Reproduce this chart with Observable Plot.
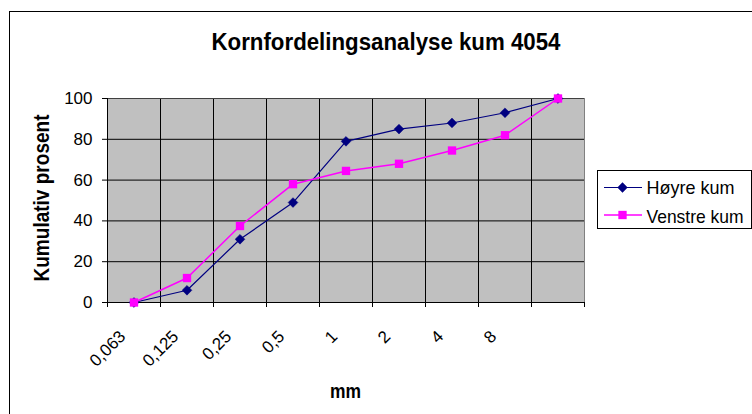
<!DOCTYPE html>
<html><head><meta charset="utf-8">
<script src="https://cdn.jsdelivr.net/npm/d3@7"></script>
<script src="https://cdn.jsdelivr.net/npm/@observablehq/plot@0.6"></script>
<style>
html,body{margin:0;padding:0;background:#fff;overflow:hidden;}
#wrap{position:relative;width:752px;height:414px;overflow:hidden;font-family:"Liberation Sans",Arial,sans-serif;}
#frame{position:absolute;left:9px;top:11px;width:900px;height:600px;border:1px solid #000;}
#chart{position:absolute;left:0;top:0;}
#overlay{position:absolute;left:0;top:0;}
</style></head><body>
<div id="wrap"><div id="frame"></div><div id="chart"></div><svg id="overlay" width="752" height="414"></svg></div>
<script>
const categories = ["0,063", "0,125", "0,25", "0,5", "1", "2", "4", "8", ""];
const hoyre = [0, 6, 31, 49, 79, 85, 88, 93, 100];
const venstre = [0, 12, 37.5, 58, 64.5, 68, 74.5, 82, 100];
const yTicks = [0, 20, 40, 60, 80, 100];
const title = "Kornfordelingsanalyse kum 4054";
const yTitle = "Kumulativ prosent";
const xTitle = "mm";
const seriesNames = ["Høyre kum", "Venstre kum"];
const colors = ["#000080", "#ff00ff"];

const rows = categories.map((label, i) => ({x: i + 0.5, hoyre: hoyre[i], venstre: venstre[i], label}));

const chart = Plot.plot({
  width: 752, height: 414,
  marginLeft: 107, marginRight: 168, marginTop: 98, marginBottom: 112,
  style: {background: "transparent", fontFamily: "Liberation Sans, Arial, sans-serif", fontSize: "17px", color: "#000"},
  x: {domain: [0, categories.length]},
  y: {domain: [0, 100]},
  marks: [
    Plot.frame({fill: "#c0c0c0", stroke: "#808080"}),
    Plot.ruleX(d3.range(1, categories.length), {stroke: "#000"}),
    Plot.ruleY(yTicks.filter(v => v > 0 && v < 100), {stroke: "#000"}),
    Plot.ruleY([100], {stroke: "#404040"}),
    Plot.axisY({ticks: yTicks, tickSize: 5, tickPadding: 10, fontSize: 17, label: null, tickFormat: d => String(d)}),
    Plot.axisX({ticks: d3.range(0, categories.length + 1), tickSize: 5, tickFormat: () => "", label: null}),
    Plot.ruleX([0], {stroke: "#000"}),
    Plot.ruleY([0], {stroke: "#000"}),
    Plot.text(rows, {x: "x", y: () => 0, text: "label", rotate: -45, textAnchor: "end", lineAnchor: "bottom", dx: -7.5, dy: 35, fontSize: 17, fill: "#000"}),
    Plot.line(rows, {x: "x", y: "hoyre", stroke: colors[0], strokeWidth: 1.2}),
    Plot.dot(rows, {x: "x", y: "hoyre", symbol: "diamond2", r: 4.4, fill: colors[0], stroke: colors[0], strokeWidth: 0.5}),
    Plot.line(rows, {x: "x", y: "venstre", stroke: colors[1], strokeWidth: 1.5}),
    Plot.dot(rows, {x: "x", y: "venstre", symbol: "square", r: 4.7, fill: colors[1]})
  ]
});
document.getElementById("chart").appendChild(chart);

const ov = d3.select("#overlay");
const ff = "Liberation Sans, Arial, sans-serif";
ov.append("text").attr("x", 386).attr("y", 49.5).attr("text-anchor", "middle")
  .attr("font-family", ff).attr("font-weight", "bold").attr("font-size", 23)
  .attr("textLength", 349).attr("lengthAdjust", "spacingAndGlyphs").text(title);
ov.append("text").attr("transform", "translate(49,198) rotate(-90)").attr("text-anchor", "middle")
  .attr("font-family", ff).attr("font-weight", "bold").attr("font-size", 22)
  .attr("textLength", 167).attr("lengthAdjust", "spacingAndGlyphs").text(yTitle);
ov.append("text").attr("x", 345.5).attr("y", 398).attr("text-anchor", "middle")
  .attr("font-family", ff).attr("font-weight", "bold").attr("font-size", 21)
  .attr("textLength", 31).attr("lengthAdjust", "spacingAndGlyphs").text(xTitle);

// legend
const lg = ov.append("g");
lg.append("rect").attr("x", 597.5).attr("y", 170.5).attr("width", 154).attr("height", 58)
  .attr("fill", "#fff").attr("stroke", "#000");
const rowsY = [187.5, 215];
const textY = [194.3, 223.3];
const textLen = [88, 97];
seriesNames.forEach((name, k) => {
  lg.append("line").attr("x1", 604).attr("x2", 642).attr("y1", rowsY[k]).attr("y2", rowsY[k])
    .attr("stroke", colors[k]).attr("stroke-width", k === 0 ? 1.2 : 1.5);
  if (k === 0) {
    lg.append("path").attr("d", d3.symbol(d3.symbolDiamond2, 4.4 * 4.4 * Math.PI)())
      .attr("transform", `translate(622.5,${rowsY[k]})`).attr("fill", colors[k])
      .attr("stroke", colors[k]).attr("stroke-width", 0.5);
  } else {
    lg.append("path").attr("d", d3.symbol(d3.symbolSquare, 4.7 * 4.7 * Math.PI)())
      .attr("transform", `translate(622.5,${rowsY[k]})`).attr("fill", colors[k]);
  }
  lg.append("text").attr("x", 646.5).attr("y", textY[k]).attr("font-family", ff).attr("font-size", 19)
    .attr("textLength", textLen[k]).attr("lengthAdjust", "spacingAndGlyphs").text(name);
});
</script>
</body></html>
